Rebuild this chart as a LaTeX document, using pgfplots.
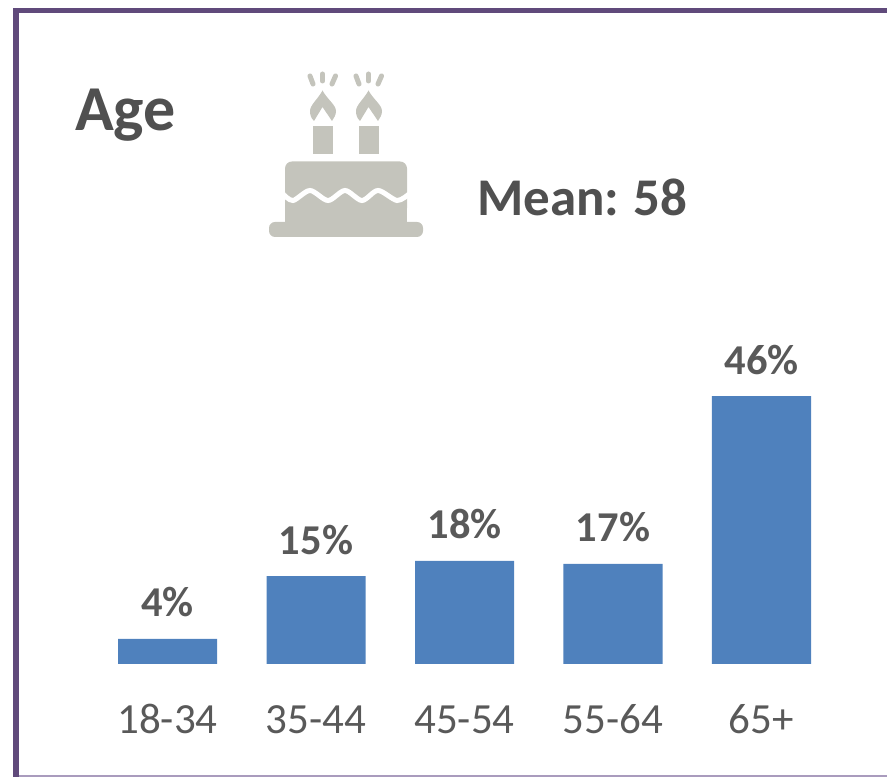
\documentclass[border=0pt]{standalone}
\usepackage{fontspec}
\setmainfont{Carlito}
\usepackage{pgfplots}
\pgfplotsset{compat=1.18}
\definecolor{framepurple}{HTML}{604A7B}
\definecolor{framelight}{HTML}{A99BBD}
\definecolor{barblue}{HTML}{4F81BD}
\definecolor{labelgray}{HTML}{595959}
\definecolor{headgray}{HTML}{505050}
\definecolor{cakegray}{HTML}{C4C4BC}
\begin{document}
\begin{tikzpicture}[x=1pt,y=1pt]
  \path[use as bounding box] (0,0) rectangle (887,777);
  % frame
  \fill[framelight] (13,0) rectangle (887,2);
  \fill[framepurple] (13,0) rectangle (19,769);
  \fill[framepurple] (13,764) rectangle (887,769);
  % headings
  \node[anchor=base west,inner sep=0pt,text=headgray,font=\fontsize{64}{70}\selectfont\bfseries] at (75,646) {Age};
  \node[anchor=base west,inner sep=0pt,text=headgray,font=\fontsize{53}{60}\selectfont\bfseries] at (477,561) {Mean:\hspace{14pt}58};
  % cake icon, in reference pixels
  \begin{scope}[shift={(0,777)},yscale=-1]
    \fill[cakegray,rounded corners=7pt] (285,161.5) -- (407,161.5) -- (407,215) -- (285,215) -- cycle;
    \fill[cakegray] (285,195) rectangle (407,224);
    \fill[cakegray,rounded corners=6pt] (269,222) rectangle (423,237);
    \draw[white,line width=5pt] plot[smooth] coordinates {(283,194) (293,200.5) (310,190.5) (328,200.5) (345,190.5) (362,200.5) (378,190.5) (397,200.5) (409,194)};
    \foreach \dx in {0,46}{
      \begin{scope}[xshift=\dx]
        \fill[cakegray] (313,126) rectangle (333,154);
        \fill[cakegray] (322.5,90.5) .. controls (327,99) and (336,105) .. (336,111)
          .. controls (336,115) and (334,118) .. (332,121) -- (322.5,107) -- (314,121)
          .. controls (311,118) and (310,115) .. (310,111) .. controls (310,105) and (318,99) .. (322.5,90.5) -- cycle;
        \draw[cakegray,line width=5pt,line cap=round] (310,76) -- (313,84);
        \draw[cakegray,line width=5pt,line cap=round] (322.5,74) -- (322.5,81);
        \draw[cakegray,line width=5pt,line cap=round] (335.5,76) -- (332,84);
      \end{scope}
    }
  \end{scope}
  \begin{axis}[
    at={(93.25pt,113pt)},anchor=south west,
    scale only axis,
    width=742.5pt,height=291.3pt,
    xmin=-0.5,xmax=4.5,ymin=0,ymax=50,
    ybar,bar width=99pt,
    axis line style={draw=none},
    xtick=data,
    xticklabels={18-34,35-44,45-54,55-64,65+},
    xtick style={draw=none},
    ytick=\empty,
    xticklabel style={text=labelgray,font=\fontsize{43}{48}\selectfont,anchor=base,yshift=-65pt},
    /pgf/number format/assume math mode=true,
    clip=false,
    nodes near coords={\pgfmathprintnumber[fixed,precision=0]{\pgfplotspointmeta}\%},
    every node near coord/.append style={text=labelgray,font=\fontsize{42.5}{48}\selectfont\bfseries,anchor=base,yshift=22pt,inner sep=0pt},
  ]
    \addplot[fill=barblue,draw=none] coordinates {
      (0,4.3)
      (1,15.1)
      (2,17.7)
      (3,17.2)
      (4,46)
    };
  \end{axis}
\end{tikzpicture}
\end{document}
